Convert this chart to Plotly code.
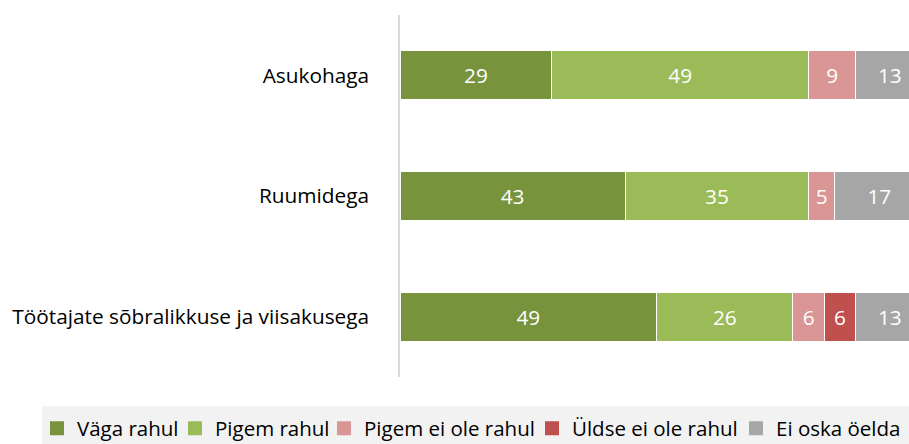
import plotly.graph_objects as go

categories = ["Asukohaga", "Ruumidega", "Töötajate sõbralikkuse ja viisakusega"]
series_names = ["Väga rahul", "Pigem rahul", "Pigem ei ole rahul", "Üldse ei ole rahul", "Ei oska öelda"]
vaga_rahul = [29, 43, 49]
pigem_rahul = [49, 35, 26]
pigem_ei_ole = [9, 5, 6]
uldse_ei_ole = [0, 0, 6]
ei_oska = [13, 17, 13]
colors = ["#77933C", "#9BBB59", "#D99694", "#C0504D", "#A6A6A6"]

series_values = [vaga_rahul, pigem_rahul, pigem_ei_ole, uldse_ei_ole, ei_oska]

W, H = 909, 444
ML, MR, MT, MB = 400, 0, 15, 67
PW, PH = W - ML - MR, H - MT - MB
FONT = "Open Sans"
FS = 20.8


def px_to_paper_x(px):
    return (px - ML) / PW


def px_to_paper_y(py):
    return 1 - (py - MT) / PH


legend_ids = ["legend", "legend2", "legend3", "legend4", "legend5"]
legend_text_x = [77, 215, 364, 572, 776]

fig = go.Figure()
for name, vals, col in zip(series_names, series_values, colors):
    fig.add_trace(go.Bar(
        y=categories, x=vals, name=name, orientation="h", showlegend=False,
        marker=dict(color=col, line=dict(color="white", width=1)),
        text=[str(v) if v else "" for v in vals],
        textposition="inside", insidetextanchor="middle", textangle=0,
        insidetextfont=dict(color="white", size=FS, family=FONT),
        hoverinfo="skip",
    ))

# legend entries (one legend per series, placed like the original single-row legend)
for name, col, lid in zip(series_names, colors, legend_ids):
    fig.add_trace(go.Scatter(
        x=[None], y=[None], mode="markers", name=name, legend=lid, showlegend=True,
        marker=dict(symbol="square", size=14, color=col, line=dict(width=0)),
        hoverinfo="skip",
    ))

legend_layout = {}
for lid, tx in zip(legend_ids, legend_text_x):
    legend_layout[lid] = dict(
        x=px_to_paper_x(tx - 40), xanchor="left",
        y=px_to_paper_y(428.5), yanchor="middle",
        orientation="h", bgcolor="rgba(0,0,0,0)", borderwidth=0,
        font=dict(family=FONT, size=20.5, color="#000000"),
        itemsizing="trace",
    )

fig.update_layout(
    width=W, height=H,
    barmode="stack", bargap=0.594,
    margin=dict(l=ML, r=MR, t=MT, b=MB, autoexpand=False),
    plot_bgcolor="white", paper_bgcolor="white",
    font=dict(family=FONT, size=FS, color="#000000"),
    showlegend=True,
    shapes=[dict(type="rect", xref="paper", yref="paper", layer="below",
                 x0=px_to_paper_x(42), x1=1.05, y0=px_to_paper_y(450), y1=px_to_paper_y(406.3),
                 fillcolor="#F2F2F2", line=dict(width=0))],
    **legend_layout,
)
fig.update_xaxes(range=[0, 97.17], showticklabels=False, showgrid=False, zeroline=False,
                 showline=False, ticks="", fixedrange=True, automargin=False)
fig.update_yaxes(autorange=False, range=[2.5, -0.5], categoryorder="array", categoryarray=categories,
                 showgrid=False, zeroline=False, showline=True, linecolor="#D9D9D9", linewidth=1.5,
                 ticks="", ticklabelstandoff=25, tickfont=dict(size=FS, family=FONT),
                 automargin=False)

fig.write_html("out.html", config=dict(displayModeBar=False),
               post_script="document.body.style.margin='0';document.body.style.overflow='hidden';")
